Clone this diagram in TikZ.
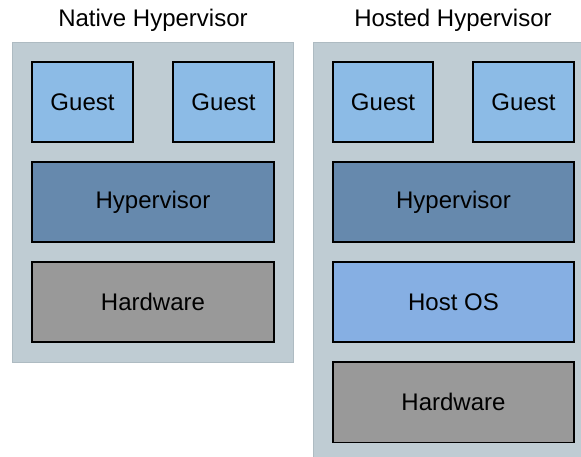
\documentclass[tikz,border=0pt]{standalone}
\usepackage{fontspec}
\setmainfont{Liberation Sans}
\definecolor{panelbg}{HTML}{BFCCD3}
\definecolor{paneledge}{HTML}{AEBBC2}
\definecolor{guestfill}{HTML}{8CBBE6}
\definecolor{hyperfill}{HTML}{6689AD}
\definecolor{hardfill}{HTML}{999999}
\definecolor{hostfill}{HTML}{86AFE3}
\begin{document}
\begin{tikzpicture}[x=1pt,y=-1pt,
  panel/.style={fill=panelbg,draw=paneledge,line width=0.8pt},
  layer/.style={draw=black,line width=1.6pt,font=\fontsize{24}{28}\selectfont},
  title/.style={font=\fontsize{24}{28}\selectfont,anchor=center}]
  \useasboundingbox (0,0) rectangle (581,456);
  \begin{scope}
    \clip (0,0) rectangle (581,456);
    % background panels
    \filldraw[panel] (12,42) rectangle (293,362);
    \filldraw[panel] (313,42) rectangle (596,466);
  \end{scope}
  % titles
  \node[title] (tnative) at (153,20) {Native Hypervisor};
  \node[title] (thosted) at (453,20) {Hosted Hypervisor};
  % native stack
  \draw[layer,fill=guestfill] (32,62) rectangle (133,142) node[midway] (ng1) {Guest};
  \draw[layer,fill=guestfill] (173,62) rectangle (274,142) node[midway] (ng2) {Guest};
  \draw[layer,fill=hyperfill] (32,162) rectangle (274,242) node[midway] (nhv) {Hypervisor};
  \draw[layer,fill=hardfill] (32,262) rectangle (274,342) node[midway] (nhw) {Hardware};
  % hosted stack
  \draw[layer,fill=guestfill] (333,62) rectangle (433,142) node[midway] (hg1) {Guest};
  \draw[layer,fill=guestfill] (473,62) rectangle (574,142) node[midway] (hg2) {Guest};
  \draw[layer,fill=hyperfill] (333,162) rectangle (574,242) node[midway] (hhv) {Hypervisor};
  \draw[layer,fill=hostfill] (333,262) rectangle (574,342) node[midway] (hos) {Host OS};
  \draw[layer,fill=hardfill] (333,362) rectangle (574,442.5) node[midway] (hhw) {Hardware};
\end{tikzpicture}
\end{document}
